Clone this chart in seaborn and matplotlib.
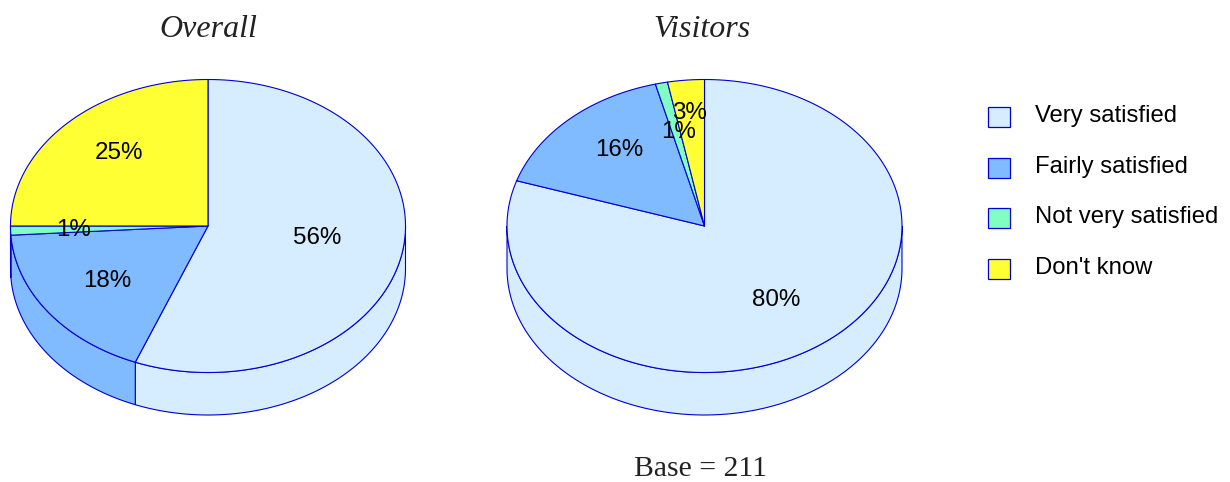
#!/usr/bin/python3
# coding=utf-8

from matplotlib import pyplot as plt
from matplotlib.patches import Patch, Polygon
import numpy as np
import seaborn as sns

categories = ["Very satisfied", "Fairly satisfied", "Not very satisfied", "Don't know"]
overall_values = [56, 18, 1, 25]
visitors_values = [80, 16, 1, 3]
pie_titles = ["Overall", "Visitors"]
base_note = "Base = 211"

colors = sns.color_palette(["#d6ecff", "#80bbff", "#80ffc0", "#ffff33"])
EDGE = "#0000d2"

# pie geometry, in figure pixels
RX, RY, DEPTH = 197.5, 146.5, 42.5
CY = 226
LABEL_R = 0.63
# hand nudges for the percent labels
overall_nudge = [(-13, -5), (0, 1), (-10, 1), (-1, -8)]
visitors_nudge = [(-1, -1), (0, -9), (1, -4), (-3, -21)]


def ellipse_xy(cx, theta):
    # theta in degrees, clockwise from 12 o'clock
    t = np.radians(theta)
    return cx + RX * np.sin(t), CY - RY * np.cos(t)


def draw_pie(ax, cx, values, nudges, title, title_x):
    edges = np.concatenate([[0], np.cumsum(values)]) / np.sum(values) * 360

    # side wall, only the front half of the ellipse can be seen
    for i in range(len(values)):
        start, end = max(edges[i], 90), min(edges[i + 1], 270)
        if start >= end:
            continue
        theta = np.linspace(start, end, 100)
        x, y = ellipse_xy(cx, theta)
        pts = np.vstack([np.column_stack([x, y]),
                         np.column_stack([x[::-1], y[::-1] + DEPTH])])
        ax.add_patch(Polygon(pts, closed=True, facecolor=colors[i],
                             edgecolor=EDGE, linewidth=0.8))

    # top face
    for i in range(len(values)):
        theta = np.linspace(edges[i], edges[i + 1], 200)
        x, y = ellipse_xy(cx, theta)
        pts = np.vstack([[cx, CY], np.column_stack([x, y])])
        ax.add_patch(Polygon(pts, closed=True, facecolor=colors[i],
                             edgecolor=EDGE, linewidth=0.8, joinstyle="round"))

    for i, v in enumerate(values):
        mid = (edges[i] + edges[i + 1]) / 2
        t = np.radians(mid)
        lx = cx + LABEL_R * RX * np.sin(t) + nudges[i][0]
        ly = CY - LABEL_R * RY * np.cos(t) + nudges[i][1]
        ax.text(lx, ly, f"{v}%", ha="center", va="center", fontsize=17.4,
                color="black", family="Liberation Sans")

    ax.text(title_x, 29.5, title, ha="center", va="center", fontsize=23,
            style="italic", family="Liberation Serif", color="#222222")


sns.set_theme(style="white")
plt.rcParams["font.family"] = ["Liberation Sans", "DejaVu Sans"]
plt.rcParams["text.color"] = "black"

fig = plt.figure(figsize=(12.3, 4.82), dpi=100)
ax = fig.add_axes([0, 0, 1, 1])
ax.set_xlim(0, 1230)
ax.set_ylim(482, 0)
ax.axis("off")

draw_pie(ax, 208, overall_values, overall_nudge, pie_titles[0], 208)
draw_pie(ax, 704.5, visitors_values, visitors_nudge, pie_titles[1], 702)

ax.text(700.5, 468.5, base_note, ha="center", va="center", fontsize=21.4,
        family="Liberation Serif", color="#222222")

handles = [Patch(facecolor=c, edgecolor=EDGE, linewidth=0.9) for c in colors]
leg = ax.legend(handles, categories, loc="upper left",
                bbox_to_anchor=(988 / 1230, 1 - 104 / 482),
                frameon=False, fontsize=17.2, handlelength=0.92, handleheight=0.92,
                handletextpad=1.05, labelspacing=1.14, borderpad=0, borderaxespad=0)
# swatches sit a little lower than their text in the original
for p in leg.get_patches():
    p.set_y(p.get_y() - 2.2)

fig.savefig("out.png", dpi=100)
